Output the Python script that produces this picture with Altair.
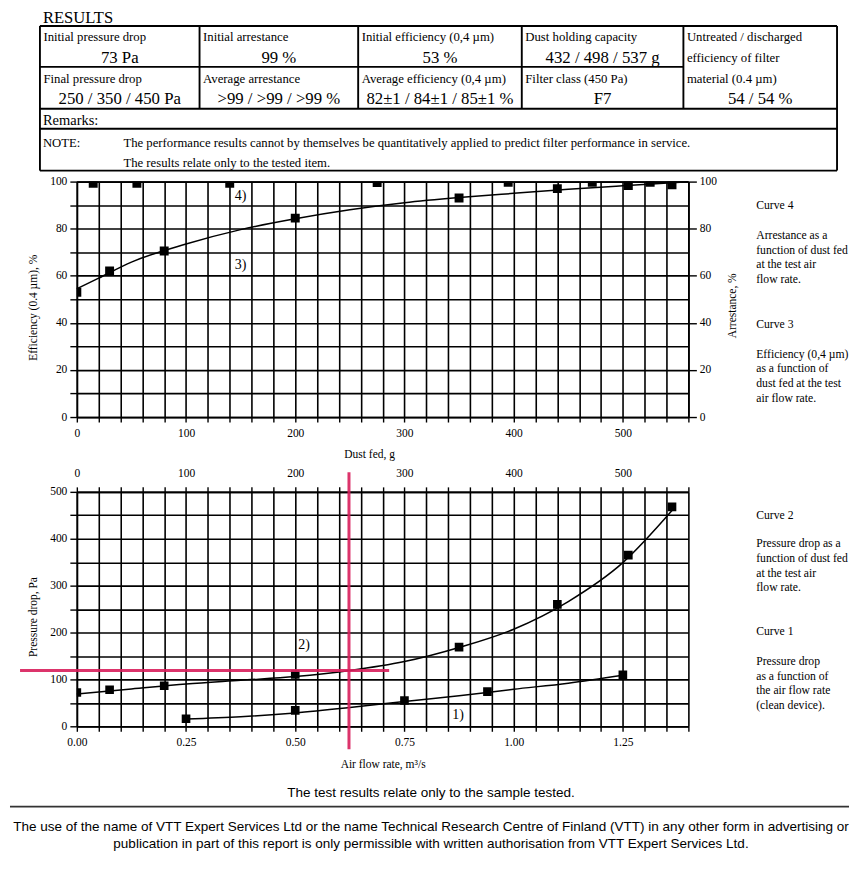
import altair as alt
import pandas as pd

# ---------------- data ----------------
results_title = "RESULTS"
row1_labels = ["Initial pressure drop", "Initial arrestance", "Initial efficiency (0,4 µm)", "Dust holding capacity"]
row1_values = ["73 Pa", "99 %", "53 %", "432 / 498 / 537 g"]
row2_labels = ["Final pressure drop", "Average arrestance", "Average efficiency (0,4 µm)", "Filter class (450 Pa)"]
row2_values = ["250 / 350 / 450 Pa", ">99 / >99 / >99 %", "82±1 / 84±1 / 85±1 %", "F7"]
col5_labels = ["Untreated / discharged", "efficiency of filter", "material (0.4 µm)"]
col5_value = "54 / 54 %"
remarks_text = "Remarks:"
note_label = "NOTE:"
note_lines = ["The performance results cannot by themselves be quantitatively applied to predict filter performance in service.",
              "The results relate only to the tested item."]

# Curve 3: efficiency (0.4 µm) vs dust fed
eff_dust = [0, 30, 80, 200, 350, 440, 505, 545]
eff_value = [53, 62, 70.5, 84.5, 93, 97, 98.3, 98.6]
fit3_dust = [0, 20, 50, 100, 150, 200, 250, 300, 350, 400, 450, 500, 560]
fit3_eff = [54.5, 59, 65.8, 73.5, 79.6, 84.2, 88, 91, 93.2, 95, 96.7, 98.2, 99.9]
# Curve 4: arrestance vs dust fed
arr_dust = [15, 55, 140, 275, 395, 472, 525]
arr_value = [99.3, 99.3, 99.3, 99.6, 99.7, 99.7, 99.7]
fit4_dust = [0, 560]
fit4_arr = [99.8, 99.8]
# Curve 2: pressure drop vs dust fed
dp_dust = [0, 30, 80, 200, 350, 440, 505, 545]
dp_dust_value = [72, 78, 86.5, 110.5, 169, 260, 365, 468]
fit2_dust = [0, 50, 100, 150, 200, 250, 300, 350, 400, 450, 500, 545]
fit2_dp = [69, 79.5, 90, 98, 106, 119, 138, 168, 207, 266, 349, 460]
# Curve 1: pressure drop vs air flow rate (clean device)
air_flow = [0.25, 0.50, 0.75, 0.94, 1.25]
dp_air_value = [16, 34, 55, 74, 110]
fit1_air = [0.25, 0.375, 0.5, 0.625, 0.75, 0.875, 1.0, 1.125, 1.25]
fit1_dp = [15.6, 20.5, 28.5, 40, 53, 65, 79, 92, 109]
# hand-drawn red marks (air flow m3/s, Pa)
red_h_air = [-0.13, 0.715]
red_h_dp = 119
red_v_air = 0.623
red_v_dp = [-49, 542]
# curve labels
up_label_text = ["4)", "3)"]
up_label_dust = [150, 150]
up_label_eff = [94, 64.4]
lo2_label = ("2)", 208, 174)
lo1_label = ("1)", 0.873, 25)

curve4_desc = ["Arrestance as a", "function of dust fed", "at the test air", "flow rate."]
curve3_desc = ["Efficiency (0,4 µm)", "as a function of", "dust fed at the test", "air flow rate."]
curve2_desc = ["Pressure drop as a", "function of dust fed", "at the test air", "flow rate."]
curve1_desc = ["Pressure drop", "as a function of", "the air flow rate", "(clean device)."]

footer_top = "The test results relate only to the sample tested."
footer_lines = ["The use of  the name of VTT Expert Services Ltd or the name Technical Research Centre of Finland (VTT) in any other form in advertising or",
                "publication in part of this report is only permissible with written authorisation from VTT Expert Services Ltd."]

# ---------------- styling / layout ----------------
SERIF = "Liberation Serif"
SANS = "Liberation Sans"
BLACK = "#000000"
RED = "#d81e5b"
W = 613
dummy = pd.DataFrame({"k": [0]})


def ax(**kw):
    d = dict(domainColor=BLACK, domainWidth=1.7, tickColor=BLACK, tickWidth=1.4,
             labelColor=BLACK, labelFont=SERIF, labelFontSize=11.5,
             titleColor=BLACK, titleFont=SERIF, titleFontSize=11.5, titleFontWeight="normal",
             gridColor=BLACK, gridWidth=1.6, gridOpacity=1, labelOverlap=False, labelFlush=False)
    d.update(kw)
    return alt.Axis(**d)


def text_block(lines, x, y_first, size=11.7, lh=14.6, font=SERIF, align="left"):
    return alt.Chart(dummy).mark_text(
        text=lines, align=align, baseline="alphabetic", font=font, fontSize=size,
        lineHeight=lh, color=BLACK
    ).encode(x=alt.value(x), y=alt.value(y_first + 0.32 * size))


# ---------------- panel 1: table ----------------
cx = [-37, 123, 282, 446, 608, 762]
ry = [0, 41, 83, 103, 145]
segs = [
    (cx[0], cx[5], ry[0], ry[0]), (cx[0], cx[4], ry[1], ry[1]), (cx[0], cx[5], ry[2], ry[2]),
    (cx[0], cx[5], ry[3], ry[3]), (cx[0], cx[5], ry[4], ry[4]),
    (cx[0], cx[0], ry[0], ry[4]), (cx[5], cx[5], ry[0], ry[4]),
]
for c in cx[1:5]:
    segs.append((c, c, ry[0], ry[2]))
seg_df = pd.DataFrame(segs, columns=["x", "x2", "y", "y2"])
table_lines = alt.Chart(seg_df).mark_rule(color=BLACK, strokeWidth=1.9).encode(
    x=alt.X("x:Q", scale=None), x2="x2:Q", y=alt.Y("y:Q", scale=None), y2="y2:Q")

lab_rows = []
for i, t in enumerate(row1_labels):
    lab_rows.append((cx[i] + 3.5, 11.5, t))
for i, t in enumerate(row2_labels):
    lab_rows.append((cx[i] + 3.5, 53, t))
for j, t in enumerate(col5_labels):
    lab_rows.append((cx[4] + 3.5, [11.5, 32, 53][j], t))
lab_df = pd.DataFrame(lab_rows, columns=["x", "y", "t"])
table_labels = alt.Chart(lab_df).mark_text(align="left", baseline="middle", font=SERIF, fontSize=12.8, color=BLACK).encode(
    x=alt.X("x:Q", scale=None), y=alt.Y("y:Q", scale=None), text="t:N")

val_rows = []
for i, t in enumerate(row1_values):
    val_rows.append(((cx[i] + cx[i + 1]) / 2, 32, t))
for i, t in enumerate(row2_values):
    val_rows.append(((cx[i] + cx[i + 1]) / 2, 73, t))
val_rows.append(((cx[4] + cx[5]) / 2, 73, col5_value))
val_df = pd.DataFrame(val_rows, columns=["x", "y", "t"])
table_values = alt.Chart(val_df).mark_text(align="center", baseline="middle", font=SERIF, fontSize=16.8, color=BLACK).encode(
    x=alt.X("x:Q", scale=None), y=alt.Y("y:Q", scale=None), text="t:N")

note_df = pd.DataFrame([(-34, 117, note_label), (46.7, 117, note_lines[0]), (46.7, 137, note_lines[1])], columns=["x", "y", "t"])
table_note = alt.Chart(note_df).mark_text(align="left", baseline="middle", font=SERIF, fontSize=12.75, color=BLACK).encode(
    x=alt.X("x:Q", scale=None), y=alt.Y("y:Q", scale=None), text="t:N")

rem_df = pd.DataFrame([(-34, 95, remarks_text)], columns=["x", "y", "t"])
table_rem = alt.Chart(rem_df).mark_text(align="left", baseline="middle", font=SERIF, fontSize=14.5, color=BLACK).encode(
    x=alt.X("x:Q", scale=None), y=alt.Y("y:Q", scale=None), text="t:N")
title_df = pd.DataFrame([(-34, -2.6, results_title)], columns=["x", "y", "t"])
table_title = alt.Chart(title_df).mark_text(align="left", baseline="alphabetic", font=SERIF, fontSize=16.6, color=BLACK).encode(
    x=alt.X("x:Q", scale=None), y=alt.Y("y:Q", scale=None), text="t:N")

table_panel = alt.layer(table_lines, table_labels, table_values, table_note, table_rem, table_title).properties(width=W, height=156)

# ---------------- panel 2: efficiency / arrestance ----------------
dust_vals = list(range(0, 561, 20))
dust_label_expr = "datum.value % 100 === 0 ? datum.label : ''"
X_UP = alt.X("dust:Q", scale=alt.Scale(domain=[0, 560], nice=False, zero=False),
             axis=ax(values=dust_vals, labelExpr=dust_label_expr, tickSize=5, labelPadding=6, grid=True,
                     title="Dust fed, g", titlePadding=9, titleX=293))
Y_EFF = alt.Y("eff:Q", scale=alt.Scale(domain=[0, 100], nice=False),
              axis=ax(values=list(range(0, 101, 10)), labelExpr="datum.value % 20 === 0 ? datum.label : ''",
                      tickSize=7, labelPadding=3, grid=True, title="Efficiency (0.4 µm), %", titlePadding=11, titleY=126))
Y_ARR = alt.Y("arr:Q", scale=alt.Scale(domain=[0, 100], nice=False),
              axis=ax(orient="right", values=list(range(0, 101, 20)), tickSize=8, labelPadding=3, grid=False,
                      title="Arrestance, %", titlePadding=10, titleAngle=270, titleBaseline="top", titleY=124))

fit3 = alt.Chart(pd.DataFrame({"dust": fit3_dust, "eff": fit3_eff})).mark_line(
    color=BLACK, strokeWidth=1.5, interpolate="monotone").encode(x=X_UP, y=Y_EFF)
pts3 = alt.Chart(pd.DataFrame({"dust": eff_dust, "eff": eff_value})).mark_point(
    shape="square", filled=True, size=80, color=BLACK, opacity=1, clip=True).encode(x=X_UP, y=Y_EFF)
lab_up = alt.Chart(pd.DataFrame({"dust": up_label_dust, "eff": up_label_eff, "t": up_label_text})).mark_text(
    font=SERIF, fontSize=14, color=BLACK, baseline="middle", align="center").encode(x=X_UP, y=Y_EFF, text="t:N")
eff_layer = alt.layer(fit3, pts3, lab_up)

fit4 = alt.Chart(pd.DataFrame({"dust": fit4_dust, "arr": fit4_arr})).mark_line(
    color=BLACK, strokeWidth=1.5).encode(x=X_UP, y=Y_ARR)
pts4 = alt.Chart(pd.DataFrame({"dust": arr_dust, "arr": arr_value})).mark_point(
    shape="square", filled=True, size=80, color=BLACK, opacity=1, clip=True).encode(x=X_UP, y=Y_ARR)
arr_layer = alt.layer(fit4, pts4)

up_texts = [
    text_block(["Curve 4"], 681, 24),
    text_block(curve4_desc, 681, 54),
    text_block(["Curve 3"], 681, 143),
    text_block(curve3_desc, 681, 173),
]
upper_panel = alt.layer(eff_layer, arr_layer, *up_texts).resolve_scale(y="independent").properties(width=W, height=236)

spacer = alt.Chart(dummy).mark_text(text=" ").encode(x=alt.value(0), y=alt.value(0)).properties(width=W, height=75)

# ---------------- panel 3: pressure drop ----------------
air_vals = [round(i * 0.05, 2) for i in range(29)]
X_AIR = alt.X("air:Q", scale=alt.Scale(domain=[0, 1.4], nice=False, zero=False),
              axis=ax(values=air_vals,
                      labelExpr="abs(datum.value*4 - round(datum.value*4)) < 0.001 ? format(datum.value, '.2f') : ''",
                      tickSize=5, labelPadding=5, grid=True, title="Air flow rate, m³/s", titlePadding=11))
X_DUST_TOP = alt.X("dust:Q", scale=alt.Scale(domain=[0, 560], nice=False, zero=False),
                   axis=ax(orient="top", values=dust_vals, labelExpr=dust_label_expr, tickSize=5, labelPadding=8,
                           grid=False, title=None))
Y_DP = alt.Y("dp:Q", scale=alt.Scale(domain=[0, 500], nice=False),
             axis=ax(values=list(range(0, 501, 50)), labelExpr="datum.value % 100 === 0 ? datum.label : ''",
                     tickSize=7, labelPadding=3, grid=True, title="Pressure drop, Pa", titlePadding=11, titleY=125))

fit1 = alt.Chart(pd.DataFrame({"air": fit1_air, "dp": fit1_dp})).mark_line(
    color=BLACK, strokeWidth=1.5, interpolate="monotone").encode(x=X_AIR, y=Y_DP)
pts1 = alt.Chart(pd.DataFrame({"air": air_flow, "dp": dp_air_value})).mark_point(
    shape="square", filled=True, size=75, color=BLACK, opacity=1, clip=True).encode(x=X_AIR, y=Y_DP)
lab1 = alt.Chart(pd.DataFrame({"air": [lo1_label[1]], "dp": [lo1_label[2]], "t": [lo1_label[0]]})).mark_text(
    font=SERIF, fontSize=14, color=BLACK, baseline="middle").encode(x=X_AIR, y=Y_DP, text="t:N")
air_layer = alt.layer(fit1, pts1, lab1)

fit2 = alt.Chart(pd.DataFrame({"dust": fit2_dust, "dp": fit2_dp})).mark_line(
    color=BLACK, strokeWidth=1.5, interpolate="monotone").encode(x=X_DUST_TOP, y=Y_DP)
pts2 = alt.Chart(pd.DataFrame({"dust": dp_dust, "dp": dp_dust_value})).mark_point(
    shape="square", filled=True, size=75, color=BLACK, opacity=1, clip=True).encode(x=X_DUST_TOP, y=Y_DP)
lab2 = alt.Chart(pd.DataFrame({"dust": [lo2_label[1]], "dp": [lo2_label[2]], "t": [lo2_label[0]]})).mark_text(
    font=SERIF, fontSize=14, color=BLACK, baseline="middle").encode(x=X_DUST_TOP, y=Y_DP, text="t:N")
dust_layer = alt.layer(fit2, pts2, lab2)

X_RED = alt.X("air:Q", scale=alt.Scale(domain=[0, 1.4], nice=False, zero=False), axis=None)
red_h = alt.Chart(pd.DataFrame({"air": [red_h_air[0]], "air2": [red_h_air[1]], "dp": [red_h_dp]})).mark_rule(
    color=RED, strokeWidth=3, opacity=0.9).encode(x=X_RED, x2="air2:Q", y=Y_DP)
red_v = alt.Chart(pd.DataFrame({"air": [red_v_air], "dp": [red_v_dp[0]], "dp2": [red_v_dp[1]]})).mark_rule(
    color=RED, strokeWidth=3, opacity=0.9).encode(x=X_RED, y=Y_DP, y2="dp2:Q")
red_layer = alt.layer(red_h, red_v)

lo_texts = [
    text_block(["Curve 2"], 681, 23),
    text_block(curve2_desc, 681, 52),
    text_block(["Curve 1"], 681, 140),
    text_block(curve1_desc, 681, 170),
]
lower_panel = alt.layer(air_layer, dust_layer, red_layer, *lo_texts).resolve_scale(x="independent").properties(width=W, height=235)

# ---------------- panel 4: footer ----------------
foot_df = pd.DataFrame([(355, 67, footer_top), (355, 100.7, footer_lines[0]), (355, 118, footer_lines[1])],
                       columns=["x", "y", "t"])
foot_text = alt.Chart(foot_df).mark_text(align="center", baseline="middle", font=SANS, fontSize=13.55, color=BLACK).encode(
    x=alt.X("x:Q", scale=None), y=alt.Y("y:Q", scale=None), text="t:N")
foot_rule = alt.Chart(pd.DataFrame({"x": [-67], "x2": [774], "y": [80.5]})).mark_rule(color="#333333", strokeWidth=1.6).encode(
    x=alt.X("x:Q", scale=None), x2="x2:Q", y=alt.Y("y:Q", scale=None))
footer_panel = alt.layer(foot_rule, foot_text).properties(width=W, height=128)

chart = alt.vconcat(table_panel, upper_panel, spacer, lower_panel, footer_panel,
                    spacing=0, bounds="flush", padding=0, background="white"
                    ).configure_view(stroke="transparent")

chart.save("out.html", embed_options={"renderer": "svg", "actions": False})
